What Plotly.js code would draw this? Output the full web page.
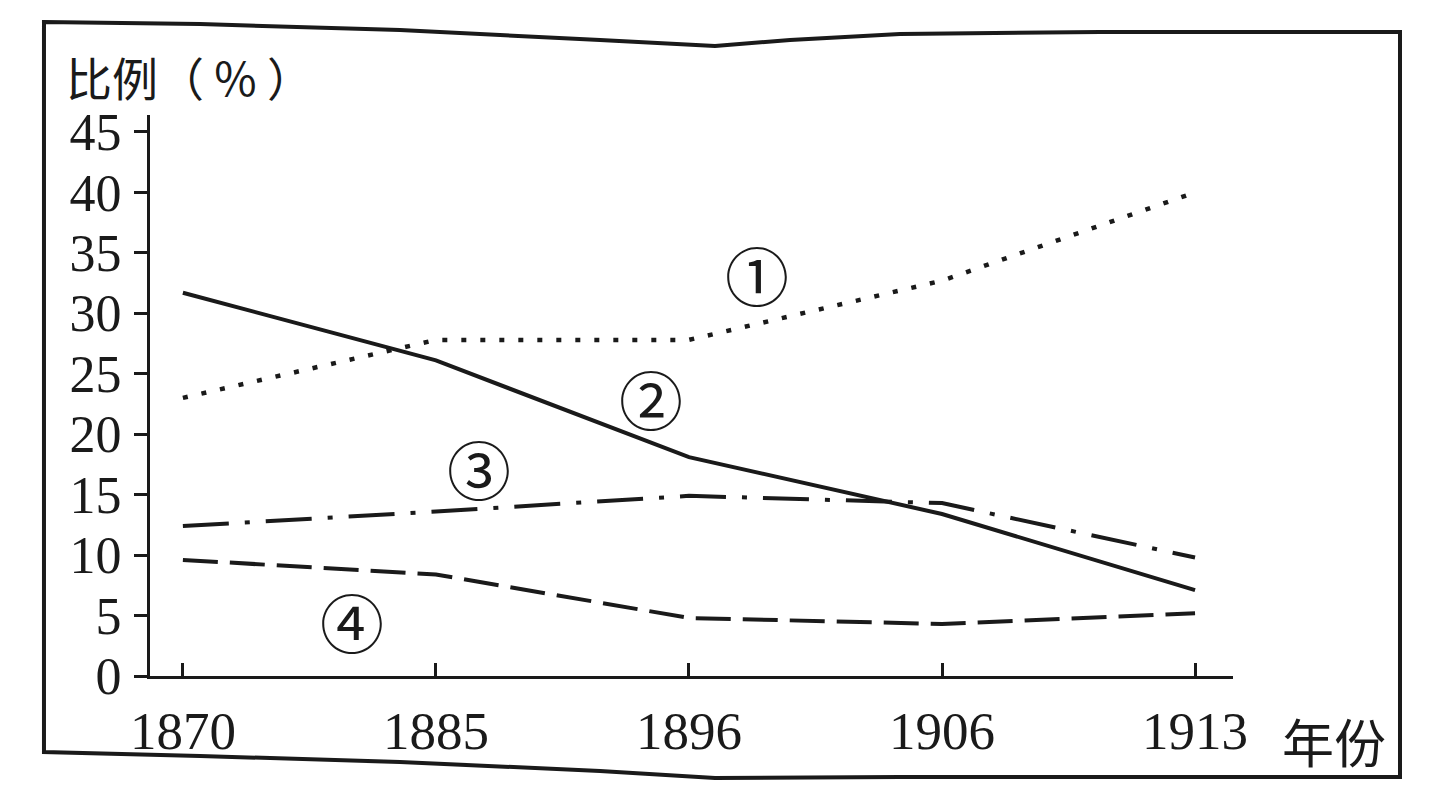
<!DOCTYPE html>
<html>
<head>
<meta charset="utf-8">
<script src="https://cdn.plot.ly/plotly-3.0.1.min.js"></script>
<style>
  html, body { margin: 0; padding: 0; background: #ffffff; }
  #chart { width: 1439px; height: 808px; }
</style>
</head>
<body>
<div id="chart"></div>
<script>
// ---- data ----
const years = ['1870', '1885', '1896', '1906', '1913'];
const series1 = [23.0, 27.8, 27.8, 32.7, 40.0];   // ① dotted
const series2 = [31.7, 26.1, 18.1, 13.4, 7.1];    // ② solid
const series3 = [12.4, 13.6, 14.9, 14.3, 9.8];    // ③ dash-dot
const series4 = [9.6, 8.4, 4.8, 4.3, 5.2];        // ④ dashed
const seriesLabels = ['①', '②', '③', '④'];
const yTicks = [0, 5, 10, 15, 20, 25, 30, 35, 40, 45];
const yTitle = '比例（ % ）';
const xTitle = '年份';

// ---- layout geometry (pixels) ----
const W = 1439, H = 808;
const plotL = 150, plotR = 1233, plotT = 115, plotB = 676;
const ink = '#1a1a1a';

function px(x) { return (x - plotL) / (plotR - plotL); }
function py(y) { return (plotB - y) / (plotB - plotT); }
function pathFrom(points, close) {
  let d = points.map((p, i) => (i ? 'L' : 'M') + px(p[0]).toFixed(4) + ',' + py(p[1]).toFixed(4)).join(' ');
  return close ? d + ' Z' : d;
}

const lineStyles = [
  { dash: '5px,14px', width: 4.5 },
  { dash: 'solid', width: 4 },
  { dash: '46px,16px,5px,16px', width: 4 },
  { dash: '35px,12px', width: 4 }
];
const allSeries = [series1, series2, series3, series4];

const traces = allSeries.map((s, i) => ({
  type: 'scatter',
  mode: 'lines',
  x: years,
  y: s,
  name: seriesLabels[i],
  line: { color: ink, width: lineStyles[i].width, dash: lineStyles[i].dash },
  hoverinfo: 'skip',
  showlegend: false
}));

// label positions (category index, value)
const labelPos = [[2.27, 33.3], [1.85, 23.1], [1.17, 17.3], [0.67, 4.6]];
const annotations = seriesLabels.map((t, i) => ({
  xref: 'x', yref: 'y',
  x: labelPos[i][0], y: labelPos[i][1],
  text: t, showarrow: false,
  xanchor: 'center', yanchor: 'middle',
  font: { family: 'Noto Sans CJK SC', size: 64, color: ink }
}));
annotations.push({
  xref: 'paper', yref: 'paper', x: px(64), y: py(76),
  xanchor: 'left', yanchor: 'middle', showarrow: false,
  text: yTitle,
  font: { family: 'Noto Sans CJK SC', size: 46, color: ink }
});
annotations.push({
  xref: 'paper', yref: 'paper', x: px(1280), y: py(740),
  xanchor: 'left', yanchor: 'middle', showarrow: false,
  text: xTitle,
  font: { family: 'Noto Sans CJK SC', size: 52, color: ink }
});

// outer (slightly warped, like the scan) frame
const framePts = [
  [44, 22], [200, 24], [400, 30], [600, 40], [715, 46], [790, 40], [900, 34], [1100, 32], [1400, 32],
  [1400, 777], [900, 777], [715, 778], [600, 771], [400, 762], [200, 756], [44, 752]
];
const shapes = [{
  type: 'path', xref: 'paper', yref: 'paper',
  path: pathFrom(framePts, true),
  line: { color: ink, width: 4 },
  fillcolor: 'rgba(0,0,0,0)'
}];

const layout = {
  width: W, height: H,
  paper_bgcolor: '#ffffff',
  plot_bgcolor: '#ffffff',
  margin: { l: plotL, r: W - plotR, t: plotT, b: H - plotB, pad: 0 },
  showlegend: false,
  xaxis: {
    type: 'category',
    categoryorder: 'array',
    categoryarray: years,
    range: [-0.13, 4.15],
    showgrid: false, zeroline: false,
    showline: true, linecolor: ink, linewidth: 3,
    ticks: 'inside', ticklen: 13, tickwidth: 3, tickcolor: ink,
    ticklabelstandoff: 6,
    tickfont: { family: 'Liberation Serif', size: 53, color: ink },
    fixedrange: true
  },
  yaxis: {
    range: [0, 46.4],
    tickvals: yTicks,
    ticktext: yTicks.map(String),
    showgrid: false, zeroline: false,
    showline: true, linecolor: ink, linewidth: 3,
    ticks: 'outside', ticklen: 13, tickwidth: 3, tickcolor: ink,
    ticklabelstandoff: 2,
    tickfont: { family: 'Liberation Serif', size: 52, color: ink },
    fixedrange: true
  },
  annotations: annotations,
  shapes: shapes
};

Plotly.newPlot('chart', traces, layout, { displayModeBar: false, staticPlot: true });
</script>
</body>
</html>
